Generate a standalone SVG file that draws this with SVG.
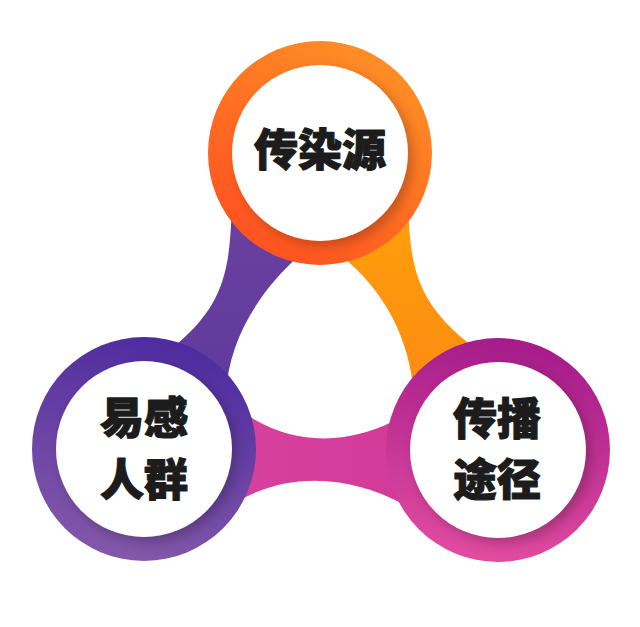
<svg xmlns="http://www.w3.org/2000/svg" width="640" height="627" viewBox="0 0 640 627">
  <style>
    .inner { fill: #ffffff; }
    .shade { fill: #000000; opacity: 0.22; filter: url(#blur); }
    .label { font-family: "Noto Sans CJK SC", "Noto Sans", sans-serif; font-weight: 900; font-size: 44px; fill: #1c1c1c; stroke: #1c1c1c; stroke-width: 1.2; stroke-linejoin: round; text-anchor: middle; }
  </style>
  <defs>
    <filter id="blur" x="-20%" y="-20%" width="140%" height="140%">
      <feGaussianBlur stdDeviation="6"/>
    </filter>
    <linearGradient id="gTop" x1="0.8" y1="0.05" x2="0.25" y2="0.95">
      <stop offset="0" stop-color="#FF9026"/>
      <stop offset="1" stop-color="#FF5220"/>
    </linearGradient>
    <linearGradient id="gLeft" x1="0.6" y1="0" x2="0.35" y2="1">
      <stop offset="0" stop-color="#4D2B9F"/>
      <stop offset="1" stop-color="#8459A9"/>
    </linearGradient>
    <linearGradient id="gRight" x1="0.55" y1="0" x2="0.4" y2="1">
      <stop offset="0" stop-color="#A41B8A"/>
      <stop offset="1" stop-color="#E24CA0"/>
    </linearGradient>
    <linearGradient id="gBandL" x1="0" y1="0" x2="0" y2="1">
      <stop offset="0" stop-color="#6C409E"/>
      <stop offset="1" stop-color="#5F3A9E"/>
    </linearGradient>
    <linearGradient id="gBandR" x1="0" y1="0" x2="0" y2="1">
      <stop offset="0" stop-color="#FFA00A"/>
      <stop offset="1" stop-color="#FD8A12"/>
    </linearGradient>
    <linearGradient id="gBandB" x1="0" y1="0" x2="1" y2="0">
      <stop offset="0" stop-color="#D7409C"/>
      <stop offset="1" stop-color="#D23B9A"/>
    </linearGradient>
  </defs>

  <g id="connectors">
    <path d="M 232,200 C 230,270 226,305 170,350 L 226,395 C 228,340 260,290 300,255 Z" fill="url(#gBandL)"/>
    <path d="M 408,200 C 410,270 416,305 480,352 L 414,395 C 410,340 385,290 340,255 Z" fill="url(#gBandR)"/>
    <path d="M 240,410 C 290,447 350,447 405,415 L 405,505 C 350,475 290,472 240,500 Z" fill="url(#gBandB)"/>
  </g>

  <g id="node-source">
    <circle cx="320" cy="153" r="112" fill="url(#gTop)"/>
    <circle class="shade" cx="325" cy="158" r="88"/>
    <circle class="inner" cx="320" cy="153" r="88"/>
    <text class="label" x="320" y="166">传染源</text>
  </g>

  <g id="node-susceptible">
    <circle cx="144" cy="449" r="112" fill="url(#gLeft)"/>
    <circle class="shade" cx="149" cy="454" r="88"/>
    <circle class="inner" cx="144" cy="449" r="88"/>
    <text class="label" x="144" y="434">易感</text>
    <text class="label" x="144" y="496">人群</text>
  </g>

  <g id="node-route">
    <circle cx="498" cy="450" r="112" fill="url(#gRight)"/>
    <circle class="shade" cx="503" cy="455" r="88"/>
    <circle class="inner" cx="498" cy="450" r="88"/>
    <text class="label" x="497" y="435">传播</text>
    <text class="label" x="497" y="496">途径</text>
  </g>
</svg>
